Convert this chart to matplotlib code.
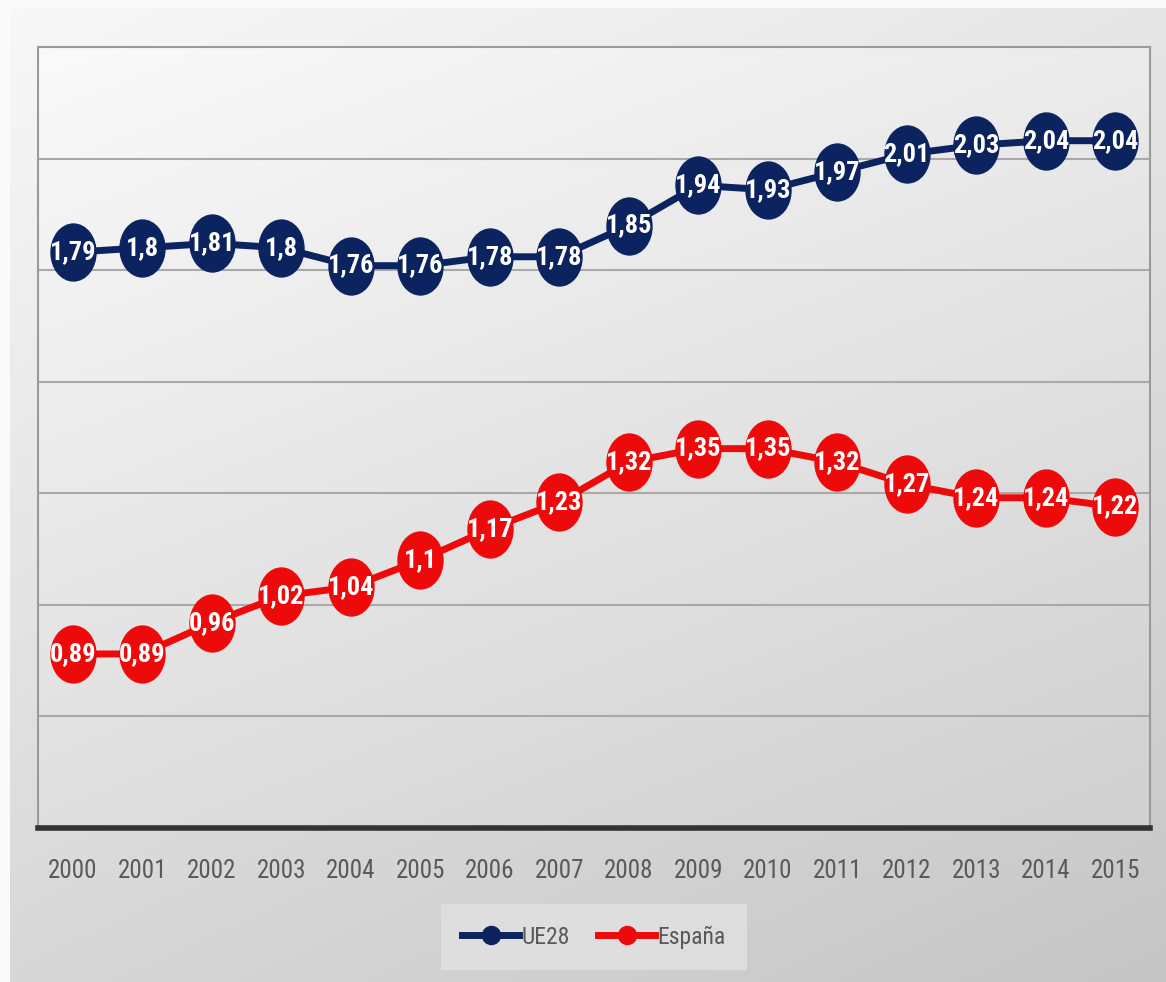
import numpy as np
import matplotlib.pyplot as plt
from matplotlib import font_manager as fm
from matplotlib.path import Path
from matplotlib.lines import Line2D
from matplotlib.colors import LinearSegmentedColormap

years = [str(y) for y in range(2000, 2016)]
ue28 = [1.79, 1.80, 1.81, 1.80, 1.76, 1.76, 1.78, 1.78, 1.85, 1.94, 1.93, 1.97, 2.01, 2.03, 2.04, 2.04]
espana = [0.89, 0.89, 0.96, 1.02, 1.04, 1.10, 1.17, 1.23, 1.32, 1.35, 1.35, 1.32, 1.27, 1.24, 1.24, 1.22]
series = [("UE28", ue28, "#0b2460"), ("España", espana, "#ee0a0a")]

W, H = 1166, 982


def narrow_font():
    # the source uses a narrow (Calibri-like) face; take one if available
    for fam in ["Liberation Sans Narrow", "Roboto Condensed", "Open Sans Condensed"]:
        try:
            fm.findfont(fm.FontProperties(family=fam), fallback_to_default=False)
            return fam, True
        except ValueError:
            pass
    return "Lato", False


NFAM, NARROW = narrow_font()
FONT = [NFAM, "DejaVu Sans"]
LAB_SIZE = 19 if NARROW else 16
YEAR_SIZE = 18 if NARROW else 15

# ellipse marker (labels in the source are vertically stretched)
circ = Path.unit_circle()
ellipse = Path(circ.vertices * np.array([0.79, 1.0]), circ.codes)


def gradient(ax, extent, c0, c1):
    g = np.linspace(0, 1, 256)
    xx, yy = np.meshgrid(g, g)
    z = 0.35 * xx + 0.65 * yy
    cmap = LinearSegmentedColormap.from_list("g", [c0, c1])
    ax.imshow(z, extent=extent, cmap=cmap, aspect="auto", origin="upper",
              zorder=0, interpolation="bicubic", vmin=0, vmax=1)


fig = plt.figure(figsize=(W / 100, H / 100), dpi=100)
fig.patch.set_facecolor("#fafafa")

bg = fig.add_axes([10 / W, 0, (W - 10) / W, (H - 8) / H])
bg.set_axis_off()
gradient(bg, [0, 1, 0, 1], "#f8f8f8", "#c6c6c6")
bg.set_xlim(0, 1)
bg.set_ylim(0, 1)

L, R, T, B = 38, 1150, 47, 828
ax = fig.add_axes([L / W, 1 - B / H, (R - L) / W, (B - T) / H])
ax.set_xlim(-0.5, len(years) - 0.5)
ax.set_ylim(0.5, 2.25)
gradient(ax, [-0.5, len(years) - 0.5, 0.5, 2.25], "#fafafa", "#d0d0d0")

for yv in np.arange(0.75, 2.25, 0.25):
    ax.axhline(yv, color="#a9a9a9", lw=1.5, zorder=1)

x = np.arange(len(years))
for name, vals, col in series:
    ax.plot(x, vals, color=col, lw=5, marker=ellipse, ms=41, mec=col,
            mfc=col, zorder=3, label=name)
    for xi, v in zip(x, vals):
        lab = f"{v:.2f}".rstrip("0").rstrip(".").replace(".", ",")
        ax.text(xi, v, lab, ha="center", va="center", color="white",
                fontsize=LAB_SIZE, fontweight="bold", family=FONT, zorder=4)

for s in ["left", "top", "right"]:
    ax.spines[s].set_color("#9a9a9a")
    ax.spines[s].set_linewidth(1.5)
ax.spines["bottom"].set_color("#333333")
ax.spines["bottom"].set_linewidth(4)
ax.set_yticks([])
ax.set_xticks(x)
ax.set_xticklabels(years, family=FONT, fontsize=YEAR_SIZE, color="#595959")
ax.tick_params(axis="x", length=0, pad=22)

handles = [Line2D([], [], color=c, lw=5, marker="o", ms=13) for _, _, c in series]
leg = fig.legend(handles, [n for n, _, _ in series], loc="center",
                 bbox_to_anchor=(594 / W, 1 - 937 / H), ncol=2,
                 frameon=True, fancybox=False, handlelength=2.4,
                 columnspacing=1.2, handletextpad=0.1, borderpad=0.9,
                 prop={"family": FONT, "size": 17})
leg.get_frame().set_facecolor("#e2e2e2")
leg.get_frame().set_edgecolor("none")
for t in leg.get_texts():
    t.set_color("#595959")

fig.savefig("out.png", dpi=100)
